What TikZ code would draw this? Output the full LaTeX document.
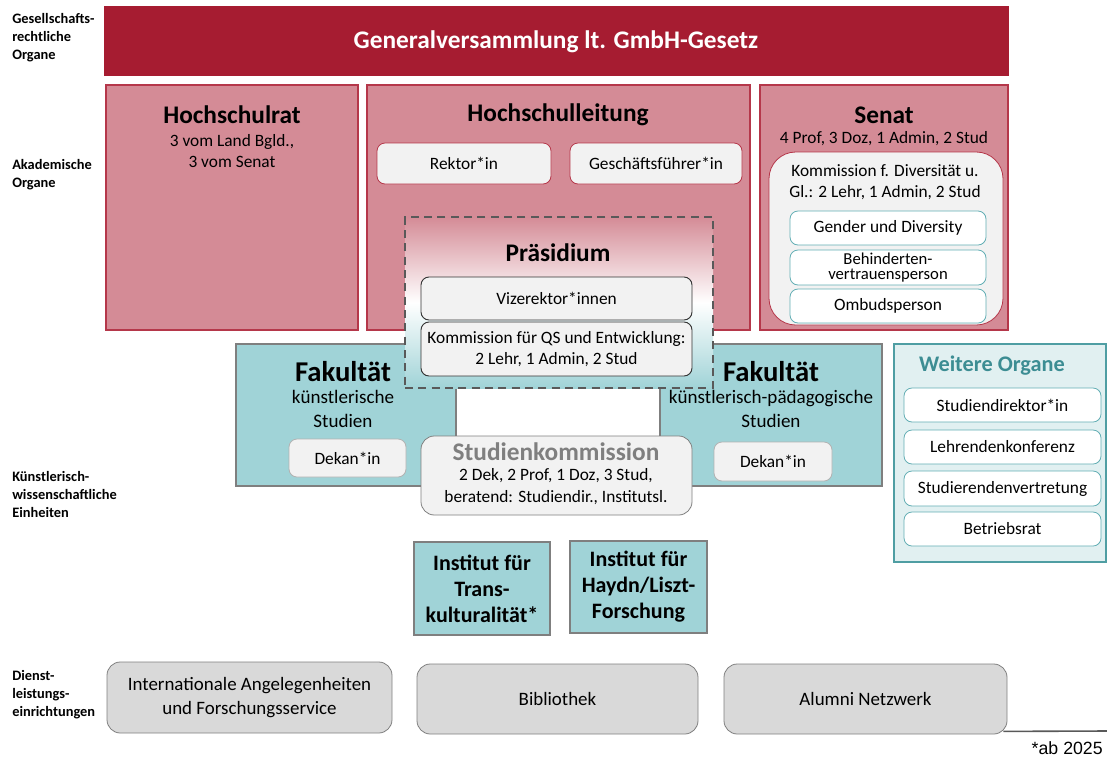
\documentclass[tikz,border=0pt]{standalone}
\usepackage{fontspec}
\setmainfont{Carlito}
\newfontfamily\arialfont{Liberation Sans}
\usepackage{tikz}
\usetikzlibrary{fit}

\definecolor{gmbhrot}{HTML}{A61C31}
\definecolor{organrosa}{HTML}{D48B96}
\definecolor{organrand}{HTML}{B5374A}
\definecolor{fakteal}{HTML}{A0D3D7}
\definecolor{randgrau}{HTML}{7F7F7F}
\definecolor{boxgrau}{HTML}{F2F2F2}
\definecolor{dienstgrau}{HTML}{D9D9D9}
\definecolor{weiterfill}{HTML}{E1F0F1}
\definecolor{weiterrand}{HTML}{4F9EA3}
\definecolor{weitertitel}{HTML}{3C8D93}
\definecolor{tealrand}{HTML}{62AEB4}
\definecolor{strichgrau}{HTML}{595959}

\tikzset{
  area/.style={inner sep=0pt, line width=0.8pt},
  organ/.style={area, fill=organrosa, draw=organrand},
  einheit/.style={area, fill=fakteal, draw=randgrau},
  pill/.style={area, rounded corners=6pt, fill=boxgrau, draw=organrand, line width=0.6pt},
  tealpill/.style={area, rounded corners=6pt, fill=white, draw=tealrand, line width=0.6pt},
  darkpill/.style={area, rounded corners=6pt, fill=boxgrau, draw=black!80, line width=0.7pt},
  dienst/.style={area, rounded corners=10pt, fill=dienstgrau, draw=randgrau, line width=0.6pt},
  ebene/.style={align=left, anchor=west, inner sep=0pt, font=\bfseries\fontsize{10.8}{13.5}\selectfont},
  titel/.style={inner sep=0pt, font=\bfseries\fontsize{19}{22}\selectfont},
  txt/.style={align=center, inner sep=0pt, font=\fontsize{13}{15.6}\selectfont},
  fakt/.style={align=center, inner sep=0pt, font=\fontsize{14.3}{18}\selectfont},
  inst/.style={align=center, inner sep=0pt, font=\bfseries\fontsize{16.5}{19.5}\selectfont},
  dtxt/.style={align=center, inner sep=0pt, font=\fontsize{14.2}{18}\selectfont},
}

\begin{document}
\begin{tikzpicture}[x=0.75pt,y=-0.75pt]
\useasboundingbox (0,0) rectangle (1107,758);

% Ebenen links
\node[ebene] (lblges) at (12,38) {Gesellschafts-\\rechtliche\\Organe};
\node[ebene] (lblaka) at (12,175) {Akademische\\Organe};
\node[ebene] (lblkue) at (12,494) {Künstlerisch-\\wissenschaftliche\\Einheiten};
\node[ebene] (lbldie) at (12,695) {Dienst-\\leistungs-\\einrichtungen};

% Generalversammlung
\node[area, fill=gmbhrot, draw=gmbhrot, fit={(105,7) (1008,75)}] (gv) {};
\node[text=white, font=\bfseries\fontsize{19}{22}\selectfont] (gvtxt) at (556,42) {Generalversammlung lt. GmbH-Gesetz};

% Hochschulrat
\node[organ, fit={(106,85) (358,330)}] (hrat) {};
\node[titel] (hrattit) at (232,115) {Hochschulrat};
\node[txt] (hratsub) at (232,151) {3 vom Land Bgld.,\\3 vom Senat};

% Hochschulleitung
\node[organ, fit={(367,85) (750,330)}] (hsl) {};
\node[titel] (hsltit) at (558,115) {Hochschulleitung};
\node[pill, fit={(377,143) (551,184)}] (rektor) {};
\node[txt] at (rektor.center) {Rektor*in};
\node[pill, fit={(570,143) (742,184)}] (gf) {};
\node[txt] at (gf.center) {Geschäftsführer*in};

% Senat
\node[organ, fit={(760,85) (1008,330)}] (senat) {};
\node[titel] (senattit) at (884,115) {Senat};
\node[txt] (senatsub) at (884,139) {4 Prof, 3 Doz, 1 Admin, 2 Stud};
\node[pill, rounded corners=20pt, fit={(769,152) (1003,325)}] (kdiv) {};
\node[txt] (kdivtxt) at (885,182) {Kommission f. Diversität u.\\Gl.: 2 Lehr, 1 Admin, 2 Stud};
\node[tealpill, fit={(790,211) (986,245)}] (gender) {};
\node[txt] at (gender.center) {Gender und Diversity};
\node[tealpill, fit={(790,250) (986,285)}] (behind) {};
\node[txt, font=\fontsize{12.5}{11.5}\selectfont] at (behind.center) {Behinderten-\\vertrauensperson};
\node[tealpill, fit={(790,289) (986,323)}] (ombud) {};
\node[txt] at (ombud.center) {Ombudsperson};

% Fakultaeten
\node[einheit, fit={(236,344) (456,486)}] (fakl) {};
\node[einheit, fit={(660,344) (882,486)}] (fakr) {};

% Praesidium
\node[area, top color=organrosa, bottom color=fakteal, middle color=white,
      draw=strichgrau, line width=1.5pt, dash pattern=on 6pt off 4pt,
      fit={(405,217) (713,388)}] (praes) {};
\node[titel] (praestit) at (558,253) {Präsidium};
\node[darkpill, fit={(421,277) (692,320)}] (vize) {};
\node[txt] at (vize.center) {Vizerektor*innen};
\node[darkpill, fit={(421,322) (692,376)}] (kqs) {};
\node[txt] at (kqs.center) {Kommission für QS und Entwicklung:\\2 Lehr, 1 Admin, 2 Stud};

% Fakultaet Texte
\node[titel, font=\bfseries\fontsize{21.5}{24}\selectfont] (fakltit) at (343,372) {Fakultät};
\node[fakt] (faklsub) at (343,409) {künstlerische\\Studien};
\node[pill, draw=randgrau!60, fit={(289,439) (406,477)}] (dekl) {};
\node[txt] at (dekl.center) {Dekan*in};
\node[titel, font=\bfseries\fontsize{21.5}{24}\selectfont] (fakrtit) at (771,372) {Fakultät};
\node[fakt] (fakrsub) at (771,409) {künstlerisch-pädagogische\\Studien};
\node[pill, draw=randgrau!60, fit={(714,442) (832,481)}] (dekr) {};
\node[txt] at (dekr.center) {Dekan*in};

% Studienkommission
\node[pill, rounded corners=10pt, draw=randgrau, fit={(421,436) (692,515)}] (stuko) {};
\node[titel, text=randgrau] (stukotit) at (556,452) {Studienkommission};
\node[txt, font=\fontsize{13}{16.5}\selectfont] (stukosub) at (556,487) {2 Dek, 2 Prof, 1 Doz, 3 Stud,\\beratend: Studiendir., Institutsl.};

% Weitere Organe
\node[area, fill=weiterfill, draw=weiterrand, fit={(894,344) (1106,562)}] (weitere) {};
\node[titel, text=weitertitel, font=\bfseries\fontsize{16.7}{19}\selectfont] (weitit) at (992,366) {Weitere Organe};
\node[tealpill, fit={(904,388) (1101,422)}] (studdir) {};
\node[txt] at (studdir.center) {Studiendirektor*in};
\node[tealpill, fit={(904,430) (1101,464)}] (lehrk) {};
\node[txt] at (lehrk.center) {Lehrendenkonferenz};
\node[tealpill, fit={(904,471) (1101,506)}] (studv) {};
\node[txt] at (studv.center) {Studierendenvertretung};
\node[tealpill, fit={(904,512) (1101,546)}] (brat) {};
\node[txt] at (brat.center) {Betriebsrat};

% Institute
\node[einheit, fit={(414,542) (550,635)}] (instt) {};
\node[inst] at (instt.center) {Institut für\\Trans-\\kulturalität*};
\node[einheit, fit={(570,541) (707,633)}] (insth) {};
\node[inst] at (insth.center) {Institut für\\Haydn/Liszt-\\Forschung};

% Dienstleistungseinrichtungen
\node[dienst, fit={(107,662) (392,733)}] (intl) {};
\node[dtxt] at (intl.center) {Internationale Angelegenheiten\\und Forschungsservice};
\node[dienst, fit={(417,664) (698,734)}] (bib) {};
\node[dtxt] at (bib.center) {Bibliothek};
\node[dienst, fit={(724,664) (1007,734)}] (alumni) {};
\node[dtxt] at (alumni.center) {Alumni Netzwerk};

% Fussnote
\coordinate (fnende) at (1107,731);
\draw[strichgrau, line width=1.2pt] (alumni.south east) ++(-4,-3) -- (fnende);
\node[inner sep=0pt, anchor=east, font=\arialfont\fontsize{13.3}{15}\selectfont] (fn) at (1103,748) {*ab 2025};
\end{tikzpicture}
\end{document}
